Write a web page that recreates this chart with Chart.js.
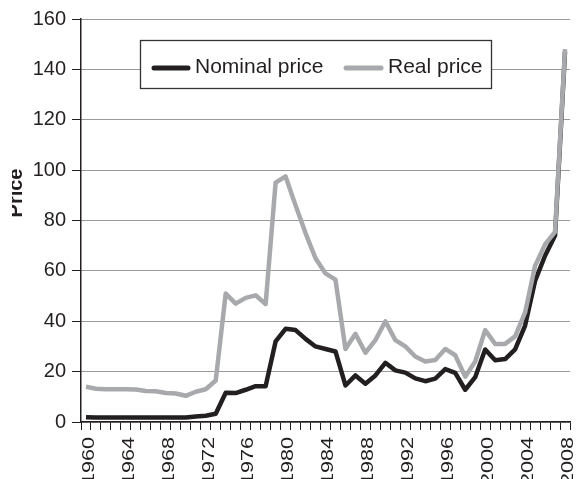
<!DOCTYPE html>
<html>
<head>
<meta charset="utf-8">
<script src="https://cdn.jsdelivr.net/npm/chart.js@4"></script>
<style>
  html, body { margin: 0; padding: 0; background: #fff; }
  #wrap { width: 578px; height: 479px; position: relative; }
</style>
</head>
<body>
<div id="wrap"><canvas id="oilChart" width="578" height="479"></canvas></div>
<script>
// Oil price, US$ per barrel
const years = [
  1960, 1961, 1962, 1963, 1964, 1965, 1966, 1967, 1968, 1969,
  1970, 1971, 1972, 1973, 1974, 1975, 1976, 1977, 1978, 1979,
  1980, 1981, 1982, 1983, 1984, 1985, 1986, 1987, 1988, 1989,
  1990, 1991, 1992, 1993, 1994, 1995, 1996, 1997, 1998, 1999,
  2000, 2001, 2002, 2003, 2004, 2005, 2006, 2007, 2008
];

const nominalPrice = [
  1.9, 1.8, 1.8, 1.8, 1.8, 1.8, 1.8, 1.8, 1.8, 1.8,
  1.8, 2.2, 2.5, 3.3, 11.6, 11.5, 12.8, 14.2, 14.2, 32,
  37, 36.5, 33, 30, 29, 28, 14.5, 18.5, 15.2, 18.5,
  23.5, 20.5, 19.6, 17.3, 16.2, 17.2, 21, 19.5, 12.8, 17.8,
  28.8, 24.5, 25, 28.8, 38.3, 56, 66, 74, 147
];

const realPrice = [
  14, 13.2, 13, 13, 13, 12.9, 12.3, 12.2, 11.5, 11.3,
  10.4, 12, 13, 16.5, 51, 47, 49.3, 50.3, 46.8, 95,
  97.5, 86, 75, 65, 59, 56.5, 29, 35, 27.5, 32.5,
  40, 32.5, 30, 26, 24, 24.6, 29, 26.5, 18, 24,
  36.5, 31, 31, 34, 43.5, 62, 70.5, 75.5, 148
];

const yTicks = [0, 20, 40, 60, 80, 100, 120, 140, 160];
const xLabelYears = [1960, 1964, 1968, 1972, 1976, 1980, 1984, 1988, 1992, 1996, 2000, 2004, 2008];

const BLACK = '#231f20';
const GREY = '#a7a9ac';
const FONT = '"Liberation Sans", Arial, Helvetica, sans-serif';

// legend box inside the plot, stretched year labels, y axis title
const overlayPlugin = {
  id: 'overlay',
  afterDraw(chart) {
    const ctx = chart.ctx;
    const xScale = chart.scales.x;

    // legend
    ctx.save();
    const box = { x: 140.5, y: 40.5, w: 351, h: 48 };
    ctx.fillStyle = '#fff';
    ctx.fillRect(box.x, box.y, box.w, box.h);
    ctx.strokeStyle = '#333';
    ctx.lineWidth = 1.3;
    ctx.strokeRect(box.x, box.y, box.w, box.h);

    const items = [
      { ds: chart.data.datasets[0], x0: 154, x1: 188, tx: 195 },
      { ds: chart.data.datasets[1], x0: 346, x1: 381, tx: 388 }
    ];
    ctx.font = '21px ' + FONT;
    ctx.textBaseline = 'middle';
    ctx.lineCap = 'round';
    items.forEach(it => {
      ctx.strokeStyle = it.ds.borderColor;
      ctx.lineWidth = 5;
      ctx.beginPath();
      ctx.moveTo(it.x0, 68);
      ctx.lineTo(it.x1, 68);
      ctx.stroke();
      ctx.fillStyle = BLACK;
      ctx.fillText(it.ds.label, it.tx, 67);
    });
    ctx.restore();

    // year labels, rotated and a bit stretched like the original
    ctx.save();
    ctx.fillStyle = BLACK;
    ctx.font = '16px ' + FONT;
    ctx.textAlign = 'right';
    ctx.textBaseline = 'alphabetic';
    xLabelYears.forEach(y => {
      const px = xScale.getPixelForValue(years.indexOf(y));
      ctx.save();
      ctx.translate(px + 2 + 5.8, xScale.top + 15);
      ctx.rotate(-Math.PI / 2);
      ctx.scale(1.35, 1);
      ctx.fillText(String(y), 0, 0);
      ctx.restore();
    });
    ctx.restore();

    // y axis title, cut at the left edge
    ctx.save();
    ctx.beginPath();
    ctx.rect(12, 0, 100, chart.height);
    ctx.clip();
    ctx.translate(22, 193);
    ctx.rotate(-Math.PI / 2);
    ctx.font = 'bold 20px ' + FONT;
    ctx.textAlign = 'center';
    ctx.textBaseline = 'alphabetic';
    ctx.fillStyle = BLACK;
    ctx.fillText('Price', 0, 0);
    ctx.restore();
  }
};

new Chart(document.getElementById('oilChart'), {
  type: 'line',
  data: {
    labels: years,
    datasets: [
      {
        label: 'Nominal price',
        data: nominalPrice,
        borderColor: BLACK,
        borderWidth: 4.5,
        pointRadius: 0,
        tension: 0,
        borderJoinStyle: 'round',
        order: 1
      },
      {
        label: 'Real price',
        data: realPrice,
        borderColor: GREY,
        borderWidth: 4.5,
        pointRadius: 0,
        tension: 0,
        borderJoinStyle: 'round',
        order: 0
      }
    ]
  },
  options: {
    responsive: false,
    animation: false,
    layout: { padding: { top: 19, right: 8, left: 0, bottom: 0 } },
    plugins: {
      legend: { display: false },
      tooltip: { enabled: false }
    },
    scales: {
      x: {
        type: 'category',
        offset: true,
        grid: {
          offset: true,
          drawOnChartArea: false,
          drawTicks: true,
          tickLength: 8,
          tickColor: BLACK,
          tickWidth: 1
        },
        border: { color: BLACK, width: 1.5 },
        ticks: { display: false, autoSkip: false },
        afterFit: scale => { scale.height = 57; }
      },
      y: {
        min: 0,
        max: 160,
        afterBuildTicks: scale => {
          scale.ticks = yTicks.map(v => ({ value: v }));
        },
        grid: {
          color: '#333',
          lineWidth: 1,
          drawTicks: true,
          tickLength: 9,
          tickColor: BLACK,
          tickBorderDash: [],
          tickWidth: 1
        },
        border: { color: BLACK, width: 1.5, dash: [1, 1] },
        ticks: {
          padding: 6,
          color: BLACK,
          font: { family: FONT, size: 20 }
        },
        afterFit: scale => { scale.width = 81; }
      }
    }
  },
  plugins: [overlayPlugin]
});
</script>
</body>
</html>
